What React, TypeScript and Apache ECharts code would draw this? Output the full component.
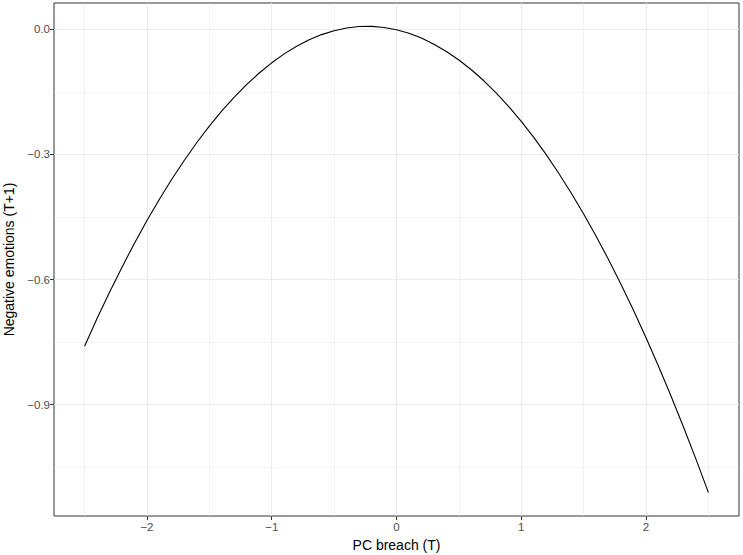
import React, { useEffect, useRef } from "react";
import * as echarts from "echarts";

// Data
const X_VALUES = [
  -2.5, -2.4, -2.3, -2.2, -2.1, -2.0, -1.9, -1.8, -1.7, -1.6, -1.5, -1.4, -1.3,
  -1.2, -1.1, -1.0, -0.9, -0.8, -0.7, -0.6, -0.5, -0.4, -0.3, -0.2, -0.1, 0.0,
  0.1, 0.2, 0.3, 0.4, 0.5, 0.6, 0.7, 0.8, 0.9, 1.0, 1.1, 1.2, 1.3, 1.4, 1.5,
  1.6, 1.7, 1.8, 1.9, 2.0, 2.1, 2.2, 2.3, 2.4, 2.5,
];
const Y_VALUES = [
  -0.76, -0.6937, -0.6305, -0.5703, -0.513, -0.4587, -0.4074, -0.3591, -0.3139,
  -0.2715, -0.2322, -0.1958, -0.1625, -0.1322, -0.1048, -0.0804, -0.059,
  -0.0406, -0.0253, -0.0128, -0.0034, 0.0031, 0.0065, 0.0069, 0.0044, -0.0011,
  -0.0096, -0.0211, -0.0357, -0.0531, -0.0736, -0.097, -0.1235, -0.153,
  -0.1854, -0.2208, -0.2592, -0.3006, -0.3451, -0.3924, -0.4428, -0.4961,
  -0.5525, -0.6119, -0.6742, -0.7395, -0.8078, -0.8791, -0.9535, -1.0307,
  -1.111,
];
const X_TICKS = [-2, -1, 0, 1, 2];
const X_MINOR = [-2.5, -1.5, -0.5, 0.5, 1.5, 2.5];
const Y_TICKS = [0, -0.3, -0.6, -0.9];
const Y_MINOR = [-0.15, -0.45, -0.75, -1.05];
const X_RANGE = [-2.745, 2.745];
const Y_RANGE = [-1.167, 0.063];
const X_TITLE = "PC breach (T)";
const Y_TITLE = "Negative emotions (T+1)";

const FONT = "Liberation Sans, Arial, Helvetica, sans-serif";
const minus = (s: string) => s.replace("-", "\u2212");

export default function App() {
  const ref = useRef<HTMLDivElement>(null);
  useEffect(() => {
    document.body.style.margin = "0";
    const chart = echarts.init(ref.current!, null, { renderer: "svg" });
    const data = X_VALUES.map((x, i) => [x, Y_VALUES[i]]);
    const gridLine = (w: number) => ({
      show: true,
      lineStyle: { color: "#EBEBEB", width: w },
    });
    chart.setOption({
      animation: false,
      backgroundColor: "#ffffff",
      grid: {
        left: 54,
        top: 3,
        width: 685,
        height: 513,
        containLabel: false,
        outerBoundsMode: "none",
        show: true,
        borderColor: "#333333",
        borderWidth: 1,
        backgroundColor: "#ffffff",
      },
      xAxis: [
        {
          type: "value",
          min: X_RANGE[0],
          max: X_RANGE[1],
          axisLine: { show: false, onZero: false },
          axisTick: {
            show: false,
            customValues: X_MINOR,
          },
          axisLabel: { show: false, customValues: X_MINOR },
          splitLine: gridLine(0.6),
        },
        {
          type: "value",
          min: X_RANGE[0],
          max: X_RANGE[1],
          position: "bottom",
          axisLine: { show: false, onZero: false },
          axisTick: {
            show: true,
            customValues: X_TICKS,
            length: 4,
            lineStyle: { color: "#333333", width: 1 },
          },
          axisLabel: {
            customValues: X_TICKS,
            color: "#4D4D4D",
            fontSize: 11.5,
            fontFamily: FONT,
            margin: 5,
            formatter: (v: number) => minus(String(v)),
          },
          splitLine: gridLine(1.1),
          name: X_TITLE,
          nameLocation: "middle",
          nameGap: 21,
          nameTextStyle: { color: "#000000", fontSize: 14, fontFamily: FONT },
        },
      ],
      yAxis: [
        {
          type: "value",
          min: Y_RANGE[0],
          max: Y_RANGE[1],
          axisLine: { show: false, onZero: false },
          axisTick: { show: false, customValues: Y_MINOR },
          axisLabel: { show: false, customValues: Y_MINOR },
          splitLine: gridLine(0.6),
        },
        {
          type: "value",
          min: Y_RANGE[0],
          max: Y_RANGE[1],
          position: "left",
          axisLine: { show: false, onZero: false },
          axisTick: {
            show: true,
            customValues: Y_TICKS,
            length: 4,
            lineStyle: { color: "#333333", width: 1 },
          },
          axisLabel: {
            customValues: Y_TICKS,
            color: "#4D4D4D",
            fontSize: 11.5,
            fontFamily: FONT,
            margin: 4,
            formatter: (v: number) => minus(v.toFixed(1)),
          },
          splitLine: gridLine(1.1),
          name: Y_TITLE,
          nameLocation: "middle",
          nameGap: 37,
          nameRotate: 90,
          nameTextStyle: { color: "#000000", fontSize: 14, fontFamily: FONT },
        },
      ],
      series: [
        {
          type: "line",
          xAxisIndex: 1,
          yAxisIndex: 1,
          data,
          showSymbol: false,
          smooth: false,
          lineStyle: { color: "#000000", width: 1.1 },
          z: 5,
        },
      ],
    });
    return () => chart.dispose();
  }, []);
  return <div ref={ref} style={{ width: 743, height: 555 }} />;
}
